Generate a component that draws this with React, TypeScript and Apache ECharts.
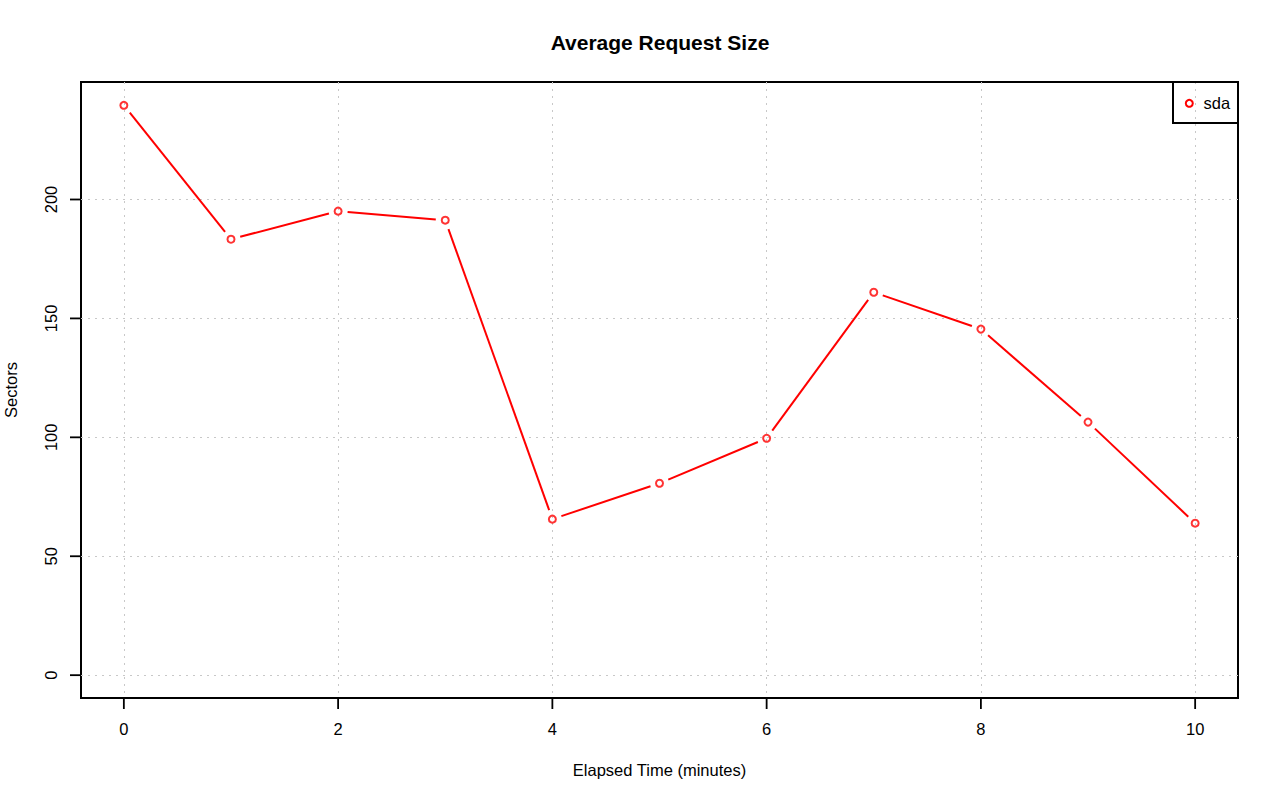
import React, { useEffect, useRef } from "react";
import * as echarts from "echarts";

const minutes = [0, 1, 2, 3, 4, 5, 6, 7, 8, 9, 10];
const sectors = [239.6, 183.3, 195.1, 191.3, 65.6, 80.7, 99.6, 161.0, 145.5, 106.4, 63.9];
const xTicks = [0, 2, 4, 6, 8, 10];
const yTicks = [0, 50, 100, 150, 200];
const seriesName = "sda";
const chartTitle = "Average Request Size";
const xName = "Elapsed Time (minutes)";
const yName = "Sectors";

export default function App() {
  const ref = useRef<HTMLDivElement>(null);
  useEffect(() => {
    const chart = echarts.init(ref.current!, null, { renderer: "svg" });
    const points = minutes.map((m, i) => [m, sectors[i]]);
    const segments = points
      .slice(0, -1)
      .map((p, i) => [p[0], p[1], points[i + 1][0], points[i + 1][1]]);
    const font = "'Liberation Sans', Arial, Helvetica, sans-serif";
    const fs = 16.5;
    const gap = 9.5;
    const tickLen = 11;
    const tickW = 1.8;
    const xMin = -0.4;
    const xMax = 10.4;
    const yMin = -9.6;
    const yMax = 249.4;
    const baseGraphic: any[] = [
      {
        id: "title",
        type: "text",
        style: {
          text: chartTitle,
          x: 660,
          y: 42,
          textAlign: "center",
          textVerticalAlign: "middle",
          fontFamily: font,
          fontSize: 21,
          fontWeight: "bold",
          fill: "#000",
        },
      },
      {
        id: "legendBox",
        type: "rect",
        shape: { x: 1173, y: 82, width: 65, height: 41 },
        style: { fill: "none", stroke: "#000", lineWidth: 2 },
        z: 10,
      },
      {
        id: "legendMark",
        type: "circle",
        shape: { cx: 1189.3, cy: 103.3, r: 3.5 },
        style: { fill: "none", stroke: "#ff0000", lineWidth: 2 },
        z: 10,
      },
      {
        id: "legendText",
        type: "text",
        style: {
          text: seriesName,
          x: 1203.5,
          y: 103.3,
          textAlign: "left",
          textVerticalAlign: "middle",
          fontFamily: font,
          fontSize: fs,
          fill: "#000",
        },
        z: 10,
      },
    ];
    chart.setOption({
      animation: false,
      backgroundColor: "#ffffff",
      grid: {
        left: 81,
        right: 42,
        top: 82,
        bottom: 103,
        outerBoundsMode: "none",
        containLabel: false,
        show: true,
        borderColor: "#000000",
        borderWidth: 2,
        backgroundColor: "transparent",
      },
      xAxis: {
        type: "value",
        min: xMin,
        max: xMax,
        name: xName,
        nameLocation: "middle",
        nameGap: 63,
        nameTextStyle: { fontFamily: font, fontSize: fs, color: "#000" },
        axisLine: { show: false, onZero: false },
        axisTick: { show: false, customValues: xTicks },
        axisLabel: {
          customValues: xTicks,
          margin: 22,
          fontFamily: font,
          fontSize: fs,
          color: "#000",
        },
        splitLine: {
          show: true,
          lineStyle: { color: "#c8c8c8", type: [2, 5], width: 1 },
        },
      },
      yAxis: {
        type: "value",
        min: yMin,
        max: yMax,
        name: yName,
        nameLocation: "middle",
        nameGap: 62,
        nameRotate: 90,
        nameTextStyle: { fontFamily: font, fontSize: fs, color: "#000" },
        axisLine: { show: false, onZero: false },
        axisTick: { show: false, customValues: yTicks },
        axisLabel: {
          customValues: yTicks,
          rotate: 90,
          margin: 22,
          fontFamily: font,
          fontSize: fs,
          color: "#000",
        },
        splitLine: {
          show: true,
          lineStyle: { color: "#c8c8c8", type: [2, 5], width: 1 },
        },
      },
      graphic: baseGraphic,
      series: [
        {
          type: "custom",
          name: seriesName + " line",
          data: segments,
          encode: { x: [0, 2], y: [1, 3] },
          renderItem: (params: any, api: any) => {
            const p1 = api.coord([api.value(0), api.value(1)]);
            const p2 = api.coord([api.value(2), api.value(3)]);
            const dx = p2[0] - p1[0];
            const dy = p2[1] - p1[1];
            const len = Math.sqrt(dx * dx + dy * dy);
            if (len <= 2 * gap) return null;
            const ux = dx / len;
            const uy = dy / len;
            return {
              type: "line",
              shape: {
                x1: p1[0] + ux * gap,
                y1: p1[1] + uy * gap,
                x2: p2[0] - ux * gap,
                y2: p2[1] - uy * gap,
              },
              style: { stroke: "#ff0000", lineWidth: 2 },
            };
          },
        },
        {
          type: "scatter",
          name: seriesName,
          data: points,
          symbol: "circle",
          symbolSize: 7,
          itemStyle: { color: "transparent", borderColor: "#ff0000", borderWidth: 2 },
          z: 5,
        },
      ],
    });
    // axis ticks as small filled rects, positioned through the chart's own scales
    const tickEls: any[] = [];
    xTicks.forEach((v, i) => {
      const p = chart.convertToPixel({ gridIndex: 0 }, [v, yMin]) as number[];
      tickEls.push({
        id: "xt" + i,
        type: "rect",
        shape: { x: p[0] - tickW / 2, y: p[1], width: tickW, height: tickLen },
        style: { fill: "#000000" },
        z: 20,
      });
    });
    yTicks.forEach((v, i) => {
      const p = chart.convertToPixel({ gridIndex: 0 }, [xMin, v]) as number[];
      tickEls.push({
        id: "yt" + i,
        type: "rect",
        shape: { x: p[0] - tickLen, y: p[1] - tickW / 2, width: tickLen, height: tickW },
        style: { fill: "#000000" },
        z: 20,
      });
    });
    chart.setOption({ graphic: [...baseGraphic, ...tickEls] });
    return () => chart.dispose();
  }, []);
  return (
    <div
      ref={ref}
      style={{ position: "absolute", left: 0, top: 0, width: 1280, height: 801 }}
    />
  );
}
